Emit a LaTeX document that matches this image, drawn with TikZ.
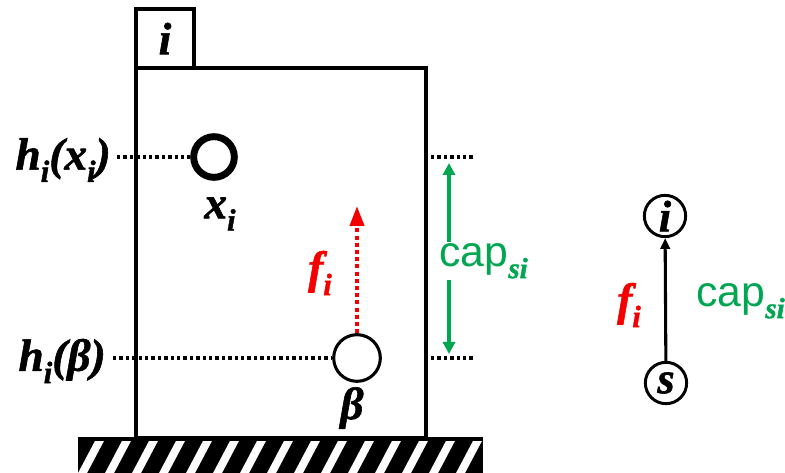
\documentclass[tikz,border=0pt]{standalone}
\usepackage{fontspec}
\setmainfont{Liberation Serif}
\newfontfamily\tbi{Liberation Serif}[UprightFont={* Bold Italic}, FakeBold=1.3]
\newfontfamily\arialf{Liberation Sans}
\usetikzlibrary{arrows.meta}
\definecolor{capgreen}{RGB}{0,166,81}
\definecolor{fred}{RGB}{245,0,0}
\newcommand\sbs[1]{\raisebox{-0.27em}{\scalebox{0.68}{#1}}}
\begin{document}
\begin{tikzpicture}[x=0.75pt,y=-0.75pt,
  bi/.style={font=\fontsize{34}{34}\selectfont\tbi, inner sep=0pt},
  wall/.style={draw, line width=2.3pt, inner sep=0pt},
  dotl/.style={line width=2.5pt, dash pattern=on 2.5pt off 2.3pt},
  ring/.style={draw, circle, inner sep=0pt},
  gnode/.style={draw, circle, line width=2.2pt, minimum size=31pt, inner sep=0pt,
    font=\fontsize{33}{33}\selectfont\tbi},
  captext/.style={text=capgreen, inner sep=1pt, font=\fontsize{32}{32}\selectfont\arialf},
]
\useasboundingbox (0,0) rectangle (785,473);

% ground
\fill[black] (78,437) rectangle (483,474);
\begin{scope}
\clip (78,442) rectangle (483,474);
\foreach \k in {0,...,18}
  \fill[white] ({50+27*\k},475) -- ++(9,0) -- ++(19,-36) -- ++(-9,0) -- cycle;
\end{scope}

% box and tab
\node[wall, minimum width=217.5pt, minimum height=277.5pt] (box) at (281,253) {};
\node[wall, minimum width=43.5pt, minimum height=44.25pt, bi] (tab) at (165,38.5) {i};

% particles
\node[ring, line width=5.2pt, minimum size=30.5pt] (xc) at (214,157) {};
\node[ring, line width=2.3pt, minimum size=35pt] (bc) at (357,358) {};

% labels
\node[bi, anchor=east] (hx) at (111,160) {h\sbs{i}(x\sbs{i})};
\node[bi, anchor=east] (hb) at (106,361) {h\sbs{i}(β)};
\node[bi] (xl) at (220,214) {x\sbs{i}};
\node[bi] (bl) at (352,408) {β};
\node[bi, text=fred] (fl) at (320,273) {f\sbs{i}};

\coordinate (hxs) at (117,157);
\coordinate (hbs) at (113,358);
\draw[dotl] (hxs) -- (xc.west);
\draw[dotl] (hbs) -- (bc.west);

% red flow arrow
\coordinate (ftip) at (357,206);
\draw[fred, line width=3pt, dash pattern=on 3pt off 2.4pt,
  -{Triangle[length=15pt,width=10.5pt]}] (bc.north) -- (ftip);

% capacity marks
\coordinate (ua) at (431,157);
\coordinate (ub) at (473,157);
\coordinate (la) at (431,358);
\coordinate (lb) at (473,358);
\draw[dotl] (ua) -- (ub);
\draw[dotl] (la) -- (lb);
\coordinate (gt) at (449,163);
\coordinate (gb) at (449,354);
\draw[capgreen, line width=2.3pt, {Triangle[length=9pt,width=9pt]}-{Triangle[length=9pt,width=9pt]}] (gt) -- (gb);
\node[captext, fill=white, anchor=west] (cl) at (438,261) {cap\sbs{\tbi si}};

% graph on the right
\node[gnode] (ni) at (665,216) {i};
\node[gnode] (ns) at (666,383) {s};
\draw[line width=2.3pt, -{Triangle[length=8pt,width=7pt]}] (ns) -- (ni);
\node[bi, text=fred] (fr) at (629,305) {f\sbs{i}};
\node[captext, anchor=west] (cr) at (695,301) {cap\sbs{\tbi si}};
\end{tikzpicture}
\end{document}
